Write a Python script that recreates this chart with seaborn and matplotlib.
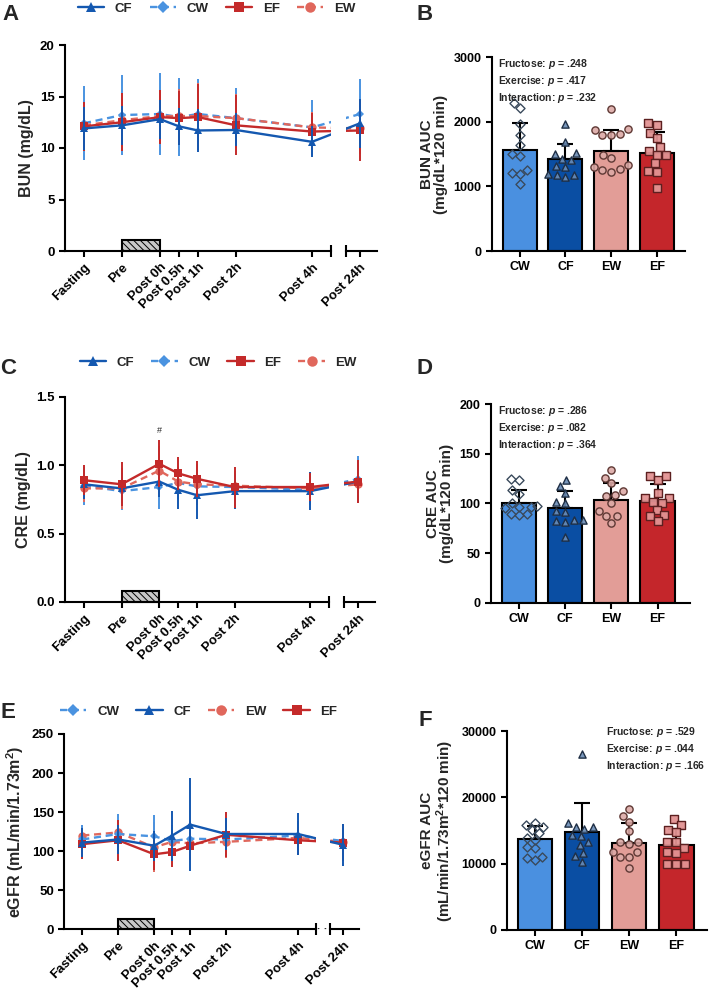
import numpy as np
import pandas as pd
import matplotlib
matplotlib.use('Agg')
import matplotlib.pyplot as plt
from matplotlib.patches import Rectangle
from matplotlib.lines import Line2D
from matplotlib.colors import to_rgba
import seaborn as sns

sns.set_theme(style="ticks")
plt.rcParams.update({
    'font.family': ['Liberation Sans', 'DejaVu Sans'],
    'font.weight': 'bold',
    'axes.labelweight': 'bold',
    'axes.linewidth': 1.5,
    'axes.edgecolor': 'black',
    'xtick.color': 'black',
    'ytick.color': 'black',
    'xtick.major.width': 1.5,
    'ytick.major.width': 1.5,
    'xtick.major.size': 4,
    'ytick.major.size': 4,
    'xtick.labelsize': 9.5,
    'ytick.labelsize': 9.5,
    'mathtext.fontset': 'custom',
    'mathtext.rm': 'Liberation Sans:bold',
    'mathtext.it': 'Liberation Sans:italic:bold',
    'mathtext.bf': 'Liberation Sans:bold',
    'hatch.linewidth': 0.7,
})

# ---- time course data (mean, SD) ----
time_labels = ['Fasting', 'Pre', 'Post 0h', 'Post 0.5h', 'Post 1h', 'Post 2h', 'Post 4h', 'Post 24h']
time_h = [-2, -1, 0, 0.5, 1, 2, 4, 24]
exercise_h = (-1, 0)

bun_cw = [12.4, 13.2, 13.3, 13.0, 13.3, 12.9, 12.0, 13.3]
bun_cw_sd = [3.6, 3.9, 4.0, 3.8, 3.4, 2.9, 2.7, 3.4]
bun_cf = [11.9, 12.2, 12.8, 12.1, 11.7, 11.75, 10.6, 12.4]
bun_cf_sd = [2.1, 1.9, 1.9, 1.8, 2.1, 1.6, 1.5, 2.4]
bun_ew = [12.2, 12.7, 13.1, 13.1, 13.1, 12.9, 12.0, 11.9]
bun_ew_sd = [2.2, 2.6, 2.5, 2.6, 3.2, 2.3, 1.5, 2.5]
bun_ef = [12.1, 12.5, 13.0, 12.9, 13.0, 12.2, 11.6, 11.7]
bun_ef_sd = [2.4, 2.8, 2.6, 2.6, 3.2, 2.9, 1.8, 3.0]

cre_cw = [0.85, 0.81, 0.84, 0.87, 0.845, 0.84, 0.82, 0.90]
cre_cw_sd = [0.14, 0.14, 0.16, 0.12, 0.12, 0.10, 0.11, 0.17]
cre_cf = [0.86, 0.83, 0.88, 0.82, 0.78, 0.81, 0.81, 0.88]
cre_cf_sd = [0.11, 0.11, 0.11, 0.14, 0.17, 0.13, 0.14, 0.16]
cre_ew = [0.83, 0.83, 0.96, 0.88, 0.86, 0.85, 0.83, 0.86]
cre_ew_sd = [0.10, 0.15, 0.18, 0.10, 0.15, 0.11, 0.08, 0.13]
cre_ef = [0.89, 0.86, 1.01, 0.94, 0.90, 0.84, 0.84, 0.88]
cre_ef_sd = [0.11, 0.16, 0.17, 0.12, 0.13, 0.15, 0.10, 0.16]

egfr_cw = [115, 122, 119, 113, 116, 115, 120, 113]
egfr_cw_sd = [19, 26, 27, 18, 16, 13, 17, 22]
egfr_cf = [111, 115, 107, 120, 134, 122, 122, 108]
egfr_cf_sd = [19, 18, 19, 32, 60, 20, 27, 27]
egfr_ew = [120, 124, 105, 112, 110, 112, 117, 112]
egfr_ew_sd = [14, 12, 32, 22, 20, 21, 22, 20]
egfr_ef = [109, 114, 96, 99, 107, 121, 114, 111]
egfr_ef_sd = [19, 26, 20, 19, 18, 29, 17, 24]

# ---- AUC data: bar mean, SD and individual points (CW, CF, EW, EF) ----
groups = ['CW', 'CF', 'EW', 'EF']

bun_auc_mean = [1565, 1420, 1555, 1525]
bun_auc_sd = [423, 238, 320, 320]
bun_auc_cw = [2290, 2210, 1960, 1795, 1635, 1475, 1510, 1250, 1200, 1215, 1040]
bun_auc_cf = [1960, 1690, 1510, 1520, 1410, 1420, 1310, 1300, 1180, 1200, 1150, 1170]
bun_auc_ew = [2200, 1885, 1875, 1800, 1800, 1810, 1490, 1440, 1330, 1300, 1265, 1260, 1230]
bun_auc_ef = [1820, 1950, 1990, 1745, 1615, 1555, 1490, 1490, 1360, 1230, 1245, 975]
bun_p = ['.248', '.417', '.232']

cre_auc_mean = [100.0, 95.6, 103.4, 102.7]
cre_auc_sd = [13.4, 16.8, 16.6, 16.8]
cre_auc_cw = [125, 123, 113, 109, 100, 97, 96, 96, 95, 89, 88, 89]
cre_auc_cf = [123, 117, 110, 101, 100, 92, 91, 83, 83, 81, 82, 66]
cre_auc_ew = [134, 126, 120, 112, 108, 107, 100, 92, 87, 87, 80]
cre_auc_ef = [128, 124, 128, 110, 105, 105, 101, 100, 93, 87, 88, 82]
cre_p = ['.286', '.082', '.364']

egfr_auc_mean = [13670, 14820, 13170, 12810]
egfr_auc_sd = [2060, 4280, 3010, 2370]
egfr_auc_cw = [16200, 15900, 15600, 15100, 14600, 13800, 13600, 12500, 12300, 11000, 10900, 10500]
egfr_auc_cf = [26500, 16200, 15600, 15600, 15300, 14100, 14300, 13300, 12800, 11600, 11100, 10300]
egfr_auc_ew = [18200, 17200, 16300, 14900, 13300, 13200, 11800, 11700, 11000, 11000, 9300, 13000]
egfr_auc_ef = [16700, 15800, 15100, 14700, 13200, 13200, 12300, 11800, 11600, 10000, 10000, 10000]
egfr_p = ['.529', '.044', '.166']

# ---- styles ----
line_colors = {'CW': '#4a93e0', 'CF': '#1458b0', 'EW': '#e0675c', 'EF': '#c42a2a'}
line_styles = {'CW': (0, (3, 2)), 'CF': '-', 'EW': (0, (3, 2)), 'EF': '-'}
line_markers = {'CW': 'D', 'CF': '^', 'EW': 'o', 'EF': 's'}
marker_sizes = {'CW': 4.5, 'CF': 6, 'EW': 6, 'EF': 5.5}
bar_colors = {'CW': '#4a90e0', 'CF': '#0a4ea3', 'EW': '#e29d97', 'EF': '#c4262b'}
pt_face = {'CW': to_rgba('#ffffff', 0.0), 'CF': to_rgba('#6a8cb5', 0.9),
           'EW': to_rgba('#dcaaa6', 0.9), 'EF': to_rgba('#e29393', 0.95)}
pt_edge = {'CW': '#3a4a5c', 'CF': '#1f2f45', 'EW': '#5e3834', 'EF': '#5c2020'}

W, H = 712, 992
fig = plt.figure(figsize=(W / 100, H / 100), dpi=100)


def px_axes(left, top, right, bottom):
    return fig.add_axes([left / W, 1 - bottom / H, (right - left) / W, (bottom - top) / H])


def tpos(t):
    # place the 24 h point just past the axis break
    return t if t < 24 else 5.26


def line_panel(main, brk, series, draw_order, legend_order, ylim, yticks, ylabel,
               legend_xy, fmt='{:.0f}', dots=False):
    x = [tpos(t) for t in time_h]
    for z, g in enumerate(draw_order):
        mean, sd = series[g]
        for ax in (main, brk):
            ax.errorbar(x, mean, yerr=sd, color=line_colors[g], ls=line_styles[g], lw=1.7,
                        marker=line_markers[g], ms=marker_sizes[g], mew=0,
                        elinewidth=1.4, capsize=3, capthick=1.4, zorder=3 + z)
    for ax in (main, brk):
        ax.set_ylim(*ylim)
        sns.despine(ax=ax)
        ax.tick_params(axis='x', length=4)
    main.set_xlim(-2.5, 4.5)
    brk.set_xlim(4.88, 5.7)
    main.set_xticks(x[:-1])
    main.set_xticklabels(time_labels[:-1], rotation=45, ha='right', rotation_mode='anchor')
    brk.set_xticks([x[-1]])
    brk.set_xticklabels(time_labels[-1:], rotation=45, ha='right', rotation_mode='anchor')
    main.set_yticks(yticks)
    main.set_yticklabels([fmt.format(v) for v in yticks])
    brk.spines['left'].set_visible(False)
    brk.tick_params(axis='y', left=False, labelleft=False)
    main.set_ylabel(ylabel, fontsize=11.5)
    # break caps on the x axis
    main.plot([1], [0], marker='|', ms=8, mew=1.5, color='black', transform=main.transAxes, clip_on=False)
    brk.plot([0], [0], marker='|', ms=8, mew=1.5, color='black', transform=brk.transAxes, clip_on=False)
    if dots:
        brk.text(-0.28, 0, '· ·', transform=brk.transAxes, ha='center', va='center', fontsize=8)
    # exercise bout
    main.add_patch(Rectangle((exercise_h[0], 0), exercise_h[1] - exercise_h[0], 0.053,
                             transform=main.get_xaxis_transform(), facecolor='#c8c8c8',
                             edgecolor='black', lw=1.5, hatch='\\\\\\\\\\', clip_on=False, zorder=2))
    handles = [Line2D([], [], color=line_colors[g], ls=line_styles[g], lw=1.7,
                      marker=line_markers[g], ms=marker_sizes[g] + 1.5, mew=0) for g in legend_order]
    main.legend(handles, legend_order, loc='center', bbox_to_anchor=legend_xy, ncol=4,
                frameon=False, fontsize=9.5, handlelength=2.0, handletextpad=0.8,
                columnspacing=1.3)


def bar_panel(ax, means, sds, points, ylim, yticks, ylabel, pvals, text_xy, xlim):
    sns.barplot(x=groups, y=means, hue=groups, palette=bar_colors, order=groups,
                hue_order=groups, width=0.74, edgecolor='black', linewidth=1.5,
                saturation=1, errorbar=None, legend=False, ax=ax, zorder=1)
    ax.errorbar(np.arange(len(groups)), means, yerr=[np.zeros(len(groups)), sds], fmt='none',
                ecolor='black', elinewidth=1.5, capsize=6, capthick=1.5, zorder=3)
    pts = pd.DataFrame([(g, v) for g, vals in zip(groups, points) for v in vals],
                       columns=['group', 'value'])
    for g in groups:
        n_before = len(ax.collections)
        sns.swarmplot(data=pts[pts.group == g], x='group', y='value', order=groups,
                      marker=line_markers[g], color=bar_colors[g], edgecolor=pt_edge[g],
                      linewidth=1.0, size=5.2 if g != 'CW' else 4.6, ax=ax, zorder=4)
        for coll in ax.collections[n_before:]:
            coll.set_facecolor(pt_face[g])
            coll.set_edgecolor(pt_edge[g])
    ax.set_xlim(*xlim)
    ax.set_ylim(*ylim)
    ax.set_yticks(yticks)
    ax.tick_params(labelsize=9)
    ax.set_xlabel('')
    ax.set_ylabel(ylabel, fontsize=11, linespacing=1.0)
    sns.despine(ax=ax)
    txt = '\n'.join(f'{name}: $p$ = {p}' for name, p in zip(['Fructose', 'Exercise', 'Interaction'], pvals))
    ax.text(text_xy[0], text_xy[1], txt, transform=ax.transAxes, ha='left', va='top',
            fontsize=7.5, linespacing=1.3, zorder=6)


# ---- A: BUN time course ----
axA = px_axes(65, 45, 331, 251)
axA2 = px_axes(345.7, 45, 376.7, 251)
line_panel(axA, axA2,
           {'CW': (bun_cw, bun_cw_sd), 'CF': (bun_cf, bun_cf_sd),
            'EW': (bun_ew, bun_ew_sd), 'EF': (bun_ef, bun_ef_sd)},
           ['CW', 'EW', 'EF', 'CF'], ['CF', 'CW', 'EF', 'EW'],
           (0, 20), [0, 5, 10, 15, 20], 'BUN (mg/dL)', (0.57, 1.175))

# ---- B: BUN AUC ----
axB = px_axes(491.7, 57.3, 685, 251)
bar_panel(axB, bun_auc_mean, bun_auc_sd, [bun_auc_cw, bun_auc_cf, bun_auc_ew, bun_auc_ef],
          (0, 3000), [0, 1000, 2000, 3000], 'BUN AUC\n(mg/dL*120 min)', bun_p,
          (0.035, 1.0), (-0.61, 3.61))

# ---- C: CRE time course ----
axC = px_axes(65, 396.7, 329, 602)
axC2 = px_axes(344, 396.7, 375, 602)
line_panel(axC, axC2,
           {'CW': (cre_cw, cre_cw_sd), 'CF': (cre_cf, cre_cf_sd),
            'EW': (cre_ew, cre_ew_sd), 'EF': (cre_ef, cre_ef_sd)},
           ['CW', 'EW', 'CF', 'EF'], ['CF', 'CW', 'EF', 'EW'],
           (0, 1.5), [0, 0.5, 1.0, 1.5], 'CRE (mg/dL)', (0.58, 1.166), fmt='{:.1f}')
axC.text(0, 1.22, '#', ha='center', va='bottom', fontsize=6.5, fontweight='normal')

# ---- D: CRE AUC ----
axD = px_axes(491, 404, 690, 602.7)
bar_panel(axD, cre_auc_mean, cre_auc_sd, [cre_auc_cw, cre_auc_cf, cre_auc_ew, cre_auc_ef],
          (0, 200), [0, 50, 100, 150, 200], 'CRE AUC\n(mg/dL*120 min)', cre_p,
          (0.035, 1.0), (-0.6, 3.7))

# ---- E: eGFR time course ----
axE = px_axes(64.3, 734, 316, 929.3)
axE2 = px_axes(330, 734, 359, 929.3)
line_panel(axE, axE2,
           {'CW': (egfr_cw, egfr_cw_sd), 'CF': (egfr_cf, egfr_cf_sd),
            'EW': (egfr_ew, egfr_ew_sd), 'EF': (egfr_ef, egfr_ef_sd)},
           ['EW', 'CW', 'EF', 'CF'], ['CW', 'CF', 'EW', 'EF'],
           (0, 250), [0, 50, 100, 150, 200, 250], 'eGFR (mL/min/1.73m$^2$)', (0.534, 1.113),
           dots=True)

# ---- F: eGFR AUC ----
axF = px_axes(506.7, 731, 706.7, 930)
bar_panel(axF, egfr_auc_mean, egfr_auc_sd, [egfr_auc_cw, egfr_auc_cf, egfr_auc_ew, egfr_auc_ef],
          (0, 30000), [0, 10000, 20000, 30000], 'eGFR AUC\n(mL/min/1.73m$^2$*120 min)', egfr_p,
          (0.495, 1.03), (-0.6, 3.65))

# panel letters
for letter, (lx, ly) in {'A': (2, 14), 'B': (417, 15), 'C': (0, 368),
                         'D': (417, 368), 'E': (0, 713), 'F': (418, 720)}.items():
    fig.text(lx / W, 1 - ly / H, letter, fontsize=16, fontweight='bold', va='center', ha='left')

fig.savefig('out.png', dpi=100)
